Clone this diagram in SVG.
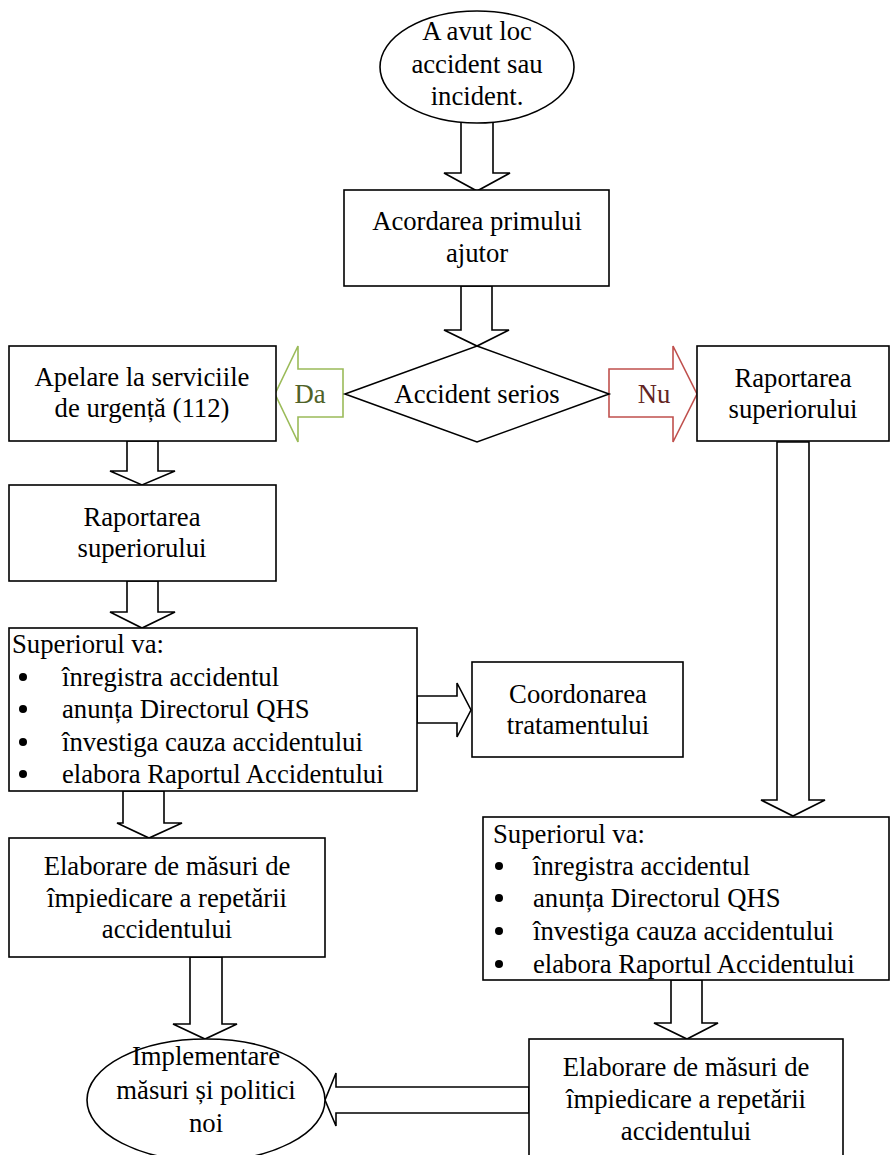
<svg xmlns="http://www.w3.org/2000/svg" width="890" height="1155" viewBox="0 0 890 1155">
<style>
.n{fill:#fff;stroke:#000;stroke-width:1.6}
.a{fill:#fff;stroke:#000;stroke-width:1.6;stroke-linejoin:miter}
.t{font-family:"Liberation Serif","Times New Roman",serif;font-size:26.7px;fill:#000}
.c{text-anchor:middle}
.da{fill:#fff;stroke:#9BBB59;stroke-width:1.6}
.nu{fill:#fff;stroke:#C0504D;stroke-width:1.6}
</style>
<rect width="890" height="1155" fill="#fff"/>
<g id="connectors">
<polygon class="a" points="461,118 493,118 493,173 510,173 477,191 444,173 461,173"/>
<polygon class="a" points="461,286 492,286 492,330 509,330 477,346 444,330 461,330"/>
<polygon class="da" points="343,369 298,369 298,346 275,394 298,442 298,417 343,417"/>
<polygon class="nu" points="609,369 673,369 673,346 697,394 673,442 673,417 609,417"/>
<polygon class="a" points="127,441 158,441 158,471 175,471 142,485 110,471 127,471"/>
<polygon class="a" points="127,581 158,581 158,612 175,612 142,628 110,612 127,612"/>
<polygon class="a" points="417,696 457,696 457,683 471,710 457,737 457,723 417,723"/>
<polygon class="a" points="123,791 164,791 164,823 182,823 149,838 117,823 123,823"/>
<polygon class="a" points="190,957 222,957 222,1024 237,1024 205,1039 173,1024 190,1024"/>
<polygon class="a" points="777,442 809,442 809,800 825,800 793,816 761,800 777,800"/>
<polygon class="a" points="671,980 702,980 702,1023 718,1023 687,1039 654,1023 671,1023"/>
<polygon class="a" points="529,1087 336,1087 336,1073 325,1100 336,1126 336,1113 529,1113"/>
</g>
<g id="start">
<ellipse class="n" cx="477" cy="67" rx="97" ry="56"/>
<text class="t c" x="477" y="40">A avut loc</text>
<text class="t c" x="477" y="73">accident sau</text>
<text class="t c" x="477" y="105">incident.</text>
</g>
<g id="primul-ajutor">
<rect class="n" x="344" y="190" width="265" height="96"/>
<text class="t c" x="477" y="230">Acordarea primului</text>
<text class="t c" x="477" y="262">ajutor</text>
</g>
<g id="decizie">
<polygon class="n" points="477,346 609,394 477,442 345,394"/>
<text class="t c" x="477" y="403">Accident serios</text>
</g>
<g id="label-da">
<text class="t c" x="310" y="403" fill="#4F6228" style="fill:#4F6228">Da</text>
</g>
<g id="label-nu">
<text class="t c" x="654" y="403" style="fill:#632523">Nu</text>
</g>
<g id="apelare">
<rect class="n" x="9" y="346" width="267" height="95"/>
<text class="t c" x="142" y="386">Apelare la serviciile</text>
<text class="t c" x="142" y="417">de urgență (112)</text>
</g>
<g id="raportare-stanga">
<rect class="n" x="9" y="485" width="267" height="96"/>
<text class="t c" x="142" y="526">Raportarea</text>
<text class="t c" x="142" y="557">superiorului</text>
</g>
<g id="raportare-dreapta">
<rect class="n" x="697" y="346" width="192" height="95"/>
<text class="t c" x="793" y="387">Raportarea</text>
<text class="t c" x="793" y="418">superiorului</text>
</g>
<g id="superior-stanga">
<rect class="n" x="9" y="628" width="408" height="163"/>
<text class="t" x="12" y="653">Superiorul va:</text>
<circle cx="23" cy="677" r="4"/>
<text class="t" x="62" y="686">înregistra accidentul</text>
<circle cx="23" cy="709" r="4"/>
<text class="t" x="62" y="718">anunța Directorul QHS</text>
<circle cx="23" cy="742" r="4"/>
<text class="t" x="62" y="751">învestiga cauza accidentului</text>
<circle cx="23" cy="774" r="4"/>
<text class="t" x="62" y="783">elabora Raportul Accidentului</text>
</g>
<g id="coordonare">
<rect class="n" x="472" y="662" width="211" height="95"/>
<text class="t c" x="578" y="703">Coordonarea</text>
<text class="t c" x="578" y="734">tratamentului</text>
</g>
<g id="superior-dreapta">
<rect class="n" x="483" y="817" width="406" height="163"/>
<text class="t" x="493" y="843">Superiorul va:</text>
<circle cx="499" cy="866" r="4"/>
<text class="t" x="533" y="875">înregistra accidentul</text>
<circle cx="499" cy="898" r="4"/>
<text class="t" x="533" y="907">anunța Directorul QHS</text>
<circle cx="499" cy="931" r="4"/>
<text class="t" x="533" y="940">învestiga cauza accidentului</text>
<circle cx="499" cy="964" r="4"/>
<text class="t" x="533" y="973">elabora Raportul Accidentului</text>
</g>
<g id="elaborare-stanga">
<rect class="n" x="9" y="838" width="316" height="119"/>
<text class="t c" x="167" y="875">Elaborare de măsuri de</text>
<text class="t c" x="167" y="907">împiedicare a repetării</text>
<text class="t c" x="167" y="938">accidentului</text>
</g>
<g id="elaborare-dreapta">
<rect class="n" x="529" y="1039" width="314" height="130"/>
<text class="t c" x="686" y="1076">Elaborare de măsuri de</text>
<text class="t c" x="686" y="1108">împiedicare a repetării</text>
<text class="t c" x="686" y="1140">accidentului</text>
</g>
<g id="implementare">
<ellipse class="n" cx="206" cy="1100" rx="119" ry="61"/>
<text class="t c" x="206" y="1065">Implementare</text>
<text class="t c" x="206" y="1099">măsuri și politici</text>
<text class="t c" x="206" y="1132">noi</text>
</g>
</svg>
